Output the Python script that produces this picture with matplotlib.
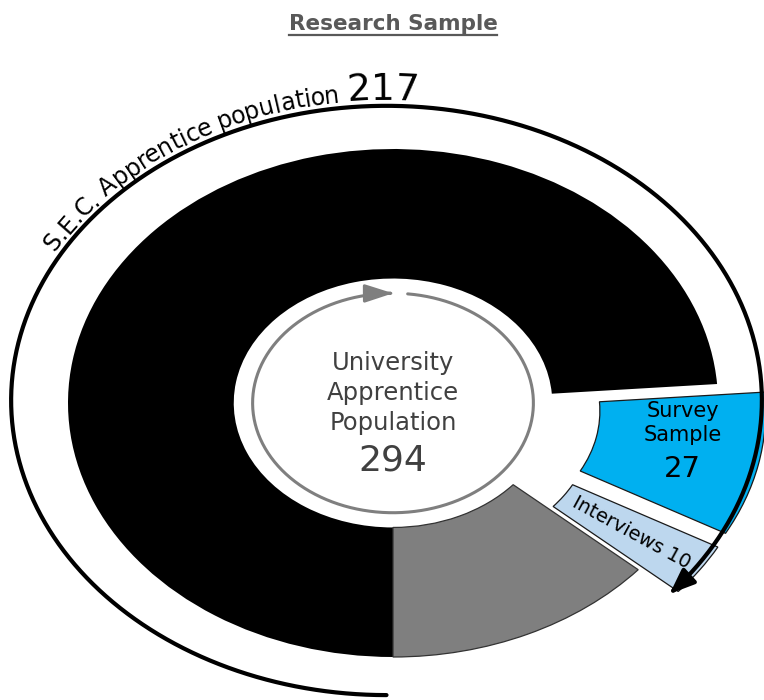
import numpy as np
import matplotlib
matplotlib.use("Agg")
import matplotlib.pyplot as plt
from matplotlib.patches import FancyArrowPatch
from matplotlib.path import Path
from matplotlib.font_manager import FontProperties

# ---- data -------------------------------------------------------------
segment_names = ["S.E.C. apprentices", "Survey sample", "Interviews", "Other university apprentices"]
segment_values = [217, 27, 10, 40]
segment_colors = ["#000000", "#00B0F0", "#BDD7EE", "#7F7F7F"]
segment_explode = [0.0, 0.15, 0.15, 0.0]

title_text = "Research Sample"
centre_label = "University\nApprentice\nPopulation"
centre_value = 294
sec_label = "S.E.C. Apprentice population"
sec_value = 217
survey_label = "Survey\nSample"
survey_value = 27
interview_label = "Interviews"
interview_value = 10

# ---- layout (pixels) --------------------------------------------------
W, H, DPI = 764, 700, 100
CX, CY = 393, 403        # pie centre, measured from the top-left corner
SX, SY = 325, 254        # pixels per data unit (the ring is drawn as an ellipse)
RING_WIDTH = 0.51

fig = plt.figure(figsize=(W / DPI, H / DPI), dpi=DPI)
ax = fig.add_axes([0, 0, 1, 1])

wedges, _ = ax.pie(segment_values, colors=segment_colors, explode=segment_explode,
                   startangle=270, counterclock=False, radius=1.0,
                   wedgeprops=dict(width=RING_WIDTH, linewidth=0))
edge_styles = [("none", 0), ("#1a1a1a", 0.9), ("#1a1a1a", 0.9), ("#333333", 0.9)]
for w, (ec, lw) in zip(wedges, edge_styles):
    w.set_edgecolor(ec)
    w.set_linewidth(lw)

ax.set_aspect("auto")
ax.set_xlim(-CX / SX, (W - CX) / SX)
ax.set_ylim(-(H - CY) / SY, CY / SY)
ax.axis("off")

renderer = fig.canvas.get_renderer()


def advance(ch, prop):
    w1 = renderer.get_text_width_height_descent("x" + ch + "x", prop, ismath=False)[0]
    w0 = renderer.get_text_width_height_descent("xx", prop, ismath=False)[0]
    return w1 - w0


def ellipse_path(t0, t1, rx, ry, xc=0.0, yc=0.0, n=400):
    t = np.radians(np.linspace(t0, t1, n))
    return Path(np.column_stack([xc + rx * np.cos(t), yc + ry * np.sin(t)]))


# ---- centre circular arrow -------------------------------------------
inner_arrow = FancyArrowPatch(path=ellipse_path(84, -270, 0.432, 0.432),
                              arrowstyle="-|>,head_length=1.7,head_width=0.55",
                              mutation_scale=10, color="#7F7F7F", lw=2.2)
ax.add_patch(inner_arrow)

ax.text(0, 0.04, centre_label, ha="center", va="center", fontsize=17.5,
        color="#404040", linespacing=1.3)
ax.text(0, -0.228, str(centre_value), ha="center", va="center", fontsize=26,
        color="#404040")

# ---- outer arc spanning the S.E.C. population ------------------------
ARC_RX, ARC_RY, ARC_XC, ARC_YC = 1.155, 1.16, -0.02, 0.01
sec_end = wedges[2].theta1          # far edge of the interviews wedge
outer_arrow = FancyArrowPatch(path=ellipse_path(-90, sec_end - 360, ARC_RX, ARC_RY, ARC_XC, ARC_YC),
                              arrowstyle="-|>,head_length=1.5,head_width=0.6",
                              mutation_scale=10, color="black", lw=3.0)
ax.add_patch(outer_arrow)

# text following the arc, clockwise from the upper left
base_rx, base_ry = ARC_RX + 6 / SX, ARC_RY + 6 / SY
ts = np.radians(np.linspace(150.5, -30, 6000))
px = base_rx * SX * np.cos(ts)
py = base_ry * SY * np.sin(ts)
s_len = np.concatenate([[0], np.cumsum(np.hypot(np.diff(px), np.diff(py)))])

small = FontProperties(family="DejaVu Sans", size=17)
large = FontProperties(family="DejaVu Sans", size=27)
pos = 0.0
for text, prop in [(sec_label + " ", small), (str(sec_value), large)]:
    for ch in text:
        adv = advance(ch, prop)
        t = np.interp(pos + adv / 2, s_len, ts)
        rot = np.degrees(np.arctan2(-base_ry * SY * np.cos(t), base_rx * SX * np.sin(t)))
        ax.text(ARC_XC + base_rx * np.cos(t), ARC_YC + base_ry * np.sin(t), ch,
                fontproperties=prop, rotation=rot, rotation_mode="anchor",
                ha="center", va="baseline", color="black")
        pos += adv

# ---- wedge labels -----------------------------------------------------
sw = wedges[1]
phi = np.radians(sw.theta2 - 0.33 * (sw.theta2 - sw.theta1))
sx0 = sw.center[0] + 0.75 * np.cos(phi)
sy0 = sw.center[1] + 0.75 * np.sin(phi)
ax.text(sx0, sy0 + 10 / SY, survey_label, ha="center", va="center", fontsize=15,
        color="black", linespacing=1.3)
ax.text(sx0, sy0 - 36 / SY, str(survey_value), ha="center", va="center", fontsize=21,
        color="black")

iw = wedges[2]
th = np.radians(0.5 * (iw.theta1 + iw.theta2))
ix = iw.center[0] + 0.745 * np.cos(th)
iy = iw.center[1] + 0.745 * np.sin(th)
irot = np.degrees(np.arctan2(SY * np.sin(th), SX * np.cos(th)))
ax.text(ix, iy, f"{interview_label} {interview_value}", ha="center", va="center",
        rotation=irot, rotation_mode="anchor", fontsize=14, color="black")

# ---- underlined title -------------------------------------------------
title = fig.text(CX / W, 1 - 24 / H, title_text, ha="center", va="center",
                 fontsize=15.5, fontweight="bold", color="#595959")
bb = title.get_window_extent(renderer)
uy = (H - 35) / H
fig.add_artist(plt.Line2D([bb.x0 / W, bb.x1 / W], [uy, uy], transform=fig.transFigure,
                          color="#595959", lw=1.6))

fig.savefig("out.png", dpi=DPI, facecolor="white")
